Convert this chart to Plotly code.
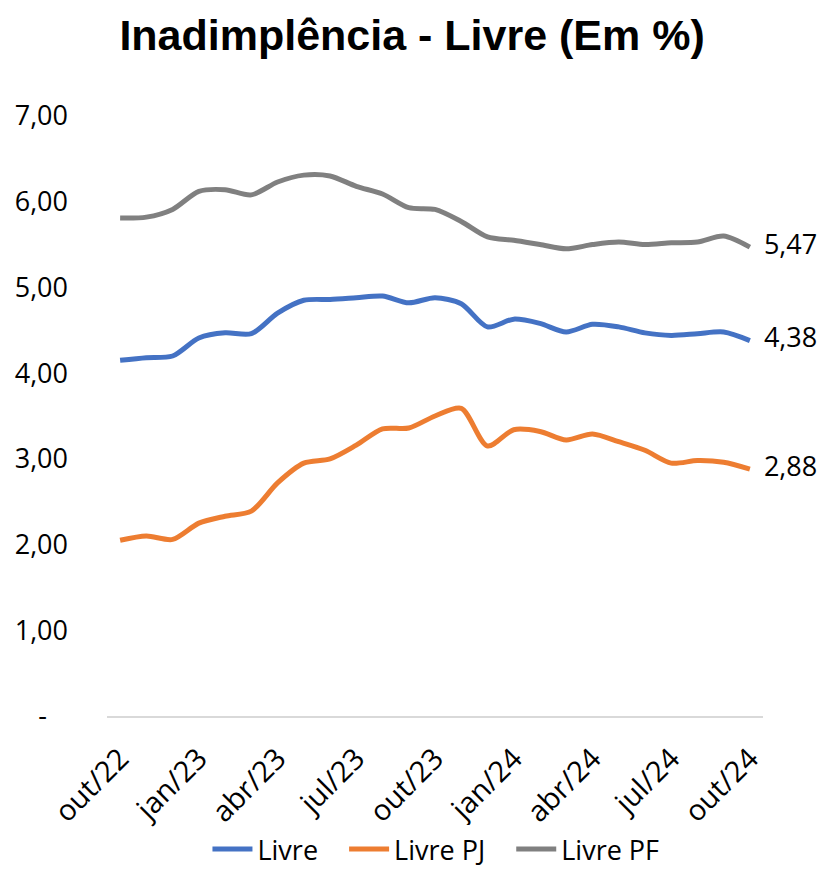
import plotly.graph_objects as go

# meses out/22 .. out/24
meses = ['out/22', 'nov/22', 'dez/22', 'jan/23', 'fev/23', 'mar/23', 'abr/23', 'mai/23',
         'jun/23', 'jul/23', 'ago/23', 'set/23', 'out/23', 'nov/23', 'dez/23', 'jan/24',
         'fev/24', 'mar/24', 'abr/24', 'mai/24', 'jun/24', 'jul/24', 'ago/24', 'set/24', 'out/24']

livre = [4.15, 4.18, 4.20, 4.41, 4.47, 4.46, 4.70, 4.85, 4.86, 4.88, 4.90, 4.82, 4.88,
         4.81, 4.54, 4.63, 4.58, 4.48, 4.57, 4.54, 4.47, 4.44, 4.46, 4.48, 4.38]
livre_pj = [2.05, 2.10, 2.06, 2.25, 2.33, 2.39, 2.72, 2.95, 3.00, 3.16, 3.35, 3.36, 3.50,
            3.59, 3.15, 3.34, 3.32, 3.22, 3.29, 3.20, 3.10, 2.95, 2.98, 2.96, 2.88]
livre_pf = [5.81, 5.82, 5.91, 6.12, 6.14, 6.08, 6.23, 6.31, 6.30, 6.18, 6.09, 5.93, 5.91,
            5.77, 5.59, 5.55, 5.50, 5.45, 5.50, 5.53, 5.50, 5.52, 5.53, 5.60, 5.47]

series = [('Livre', livre, '#4472C4'),
          ('Livre PJ', livre_pj, '#ED7D31'),
          ('Livre PF', livre_pf, '#808080')]

ytick_vals = [0, 1, 2, 3, 4, 5, 6, 7]
ytick_text = ['-\u00a0\u00a0\u00a0', '1,00', '2,00', '3,00', '4,00', '5,00', '6,00', '7,00']
xtick_vals = meses[::3]

font_fam = 'Open Sans, Noto Sans, sans-serif'
gap = '\u00a0' * 3  # espaço extra entre itens da legenda

fig = go.Figure()
for k, (nome, vals, cor) in enumerate(series):
    # rótulo só no último ponto
    rotulos = [''] * (len(vals) - 1) + ['\u00a0\u00a0' + f'{vals[-1]:.2f}'.replace('.', ',')]
    fig.add_trace(go.Scatter(
        x=meses, y=vals, name=nome + (gap if k < len(series) - 1 else ''),
        mode='lines+text',
        text=rotulos, textposition='middle right',
        textfont=dict(size=27, color='black', family=font_fam),
        line=dict(color=cor, width=5, shape='spline', smoothing=0.8),
        cliponaxis=False,
    ))

# a página tem 8px de margem no body, então a figura fica 823x866
fig.update_layout(
    width=823, height=866,
    paper_bgcolor='white', plot_bgcolor='white',
    margin=dict(l=99, r=68, t=108, b=158),
    title=dict(text='<b>Inadimplência - Livre (Em %)</b>', x=0.491, xanchor='center',
               y=0.969, yanchor='middle',
               font=dict(family='Liberation Sans, Arial, sans-serif', size=43, color='black')),
    font=dict(family=font_fam, size=26, color='black'),
    showlegend=True,
    legend=dict(orientation='h', xref='container', yref='container',
                x=0.52, xanchor='center', y=0.0, yanchor='bottom',
                font=dict(size=27, family=font_fam), itemwidth=40, tracegroupgap=0),
    xaxis=dict(type='category', range=[-0.5, 24.5], tickvals=xtick_vals,
               tickangle=-45, showgrid=False, showline=True, linecolor='#D9D9D9',
               linewidth=2, ticks='', tickfont=dict(size=29), automargin=False,
               ticklabelstandoff=12),
    yaxis=dict(range=[0, 7], tickvals=ytick_vals, ticktext=ytick_text,
               showgrid=False, zeroline=False, showline=False, ticks='',
               ticklabelstandoff=38, tickfont=dict(size=27), automargin=False),
)

fig.write_html('out.html')
